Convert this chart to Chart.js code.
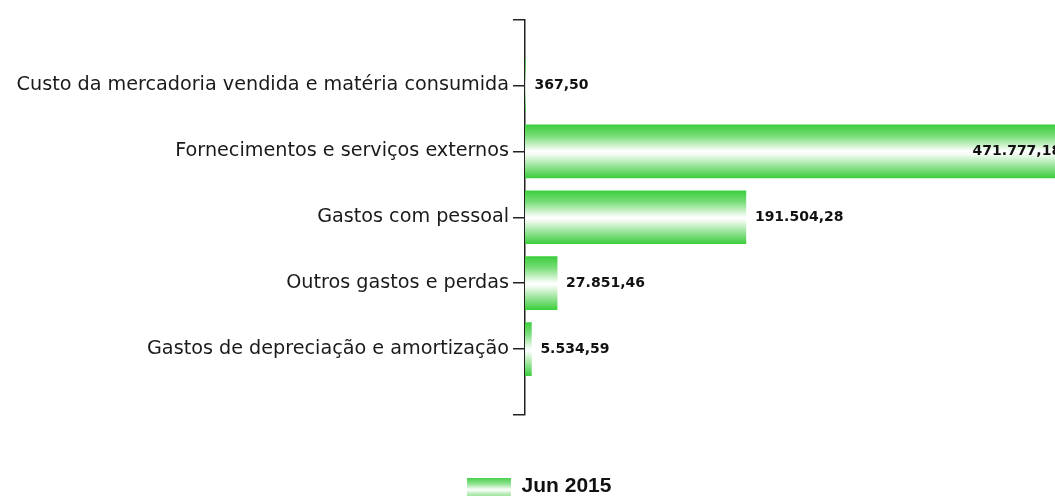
<!DOCTYPE html>
<html>
<head>
<meta charset="utf-8">
<script src="https://cdn.jsdelivr.net/npm/chart.js@4.4.1/dist/chart.umd.min.js"></script>
<style>
  html, body { margin: 0; padding: 0; background: #fff; }
  canvas { display: block; }
</style>
</head>
<body>
<canvas id="mainChart" width="1055" height="499"></canvas>
<script>
const categories = [
    'Custo da mercadoria vendida e matéria consumida',
    'Fornecimentos e serviços externos',
    'Gastos com pessoal',
    'Outros gastos e perdas',
    'Gastos de depreciação e amortização'
]
const values = [367.50, 471777.18, 191504.28, 27851.46, 5534.59]
const seriesName = 'Jun 2015'
const xMax = 459500

const GREEN = '#3dce3d'

function fmt(v) {
    const [int, dec] = v.toFixed(2).split('.')
    return int.replace(/\B(?=(\d{3})+(?!\d))/g, '.') + ',' + dec
}

function barGradient(ctx, top, bottom) {
    const g = ctx.createLinearGradient(0, top, 0, bottom)
    g.addColorStop(0, GREEN)
    g.addColorStop(0.2, '#74dc74')
    g.addColorStop(0.5, '#ffffff')
    g.addColorStop(0.56, '#f4fcf4')
    g.addColorStop(0.82, '#86df86')
    g.addColorStop(1, GREEN)
    return g
}

// little swatch used as the legend "point style"
function legendSwatch() {
    const c = document.createElement('canvas')
    c.width = 44
    c.height = 18
    const x = c.getContext('2d')
    const g = x.createLinearGradient(0, 0, 0, 18)
    g.addColorStop(0, '#45d045')
    g.addColorStop(0.35, '#8fe28f')
    g.addColorStop(0.68, '#ffffff')
    g.addColorStop(1, '#9ee59e')
    x.fillStyle = g
    x.fillRect(0, 0, 44, 18)
    return c
}

const valueLabels = {
    id: 'valueLabels',
    afterLayout(chart) {
        // legend sits a bit right of the canvas centre in the original
        chart.legend.left += 11.75
        chart.legend.right += 11.75
    },
    afterDatasetsDraw(chart) {
        const { ctx, chartArea } = chart
        const meta = chart.getDatasetMeta(0)
        ctx.save()
        ctx.font = 'bold 14px "DejaVu Sans"'
        ctx.fillStyle = '#111'
        ctx.textBaseline = 'middle'
        meta.data.forEach((bar, i) => {
            const text = fmt(values[i])
            const w = ctx.measureText(text).width
            if (bar.x + 9 + w > chartArea.right) {
                ctx.textAlign = 'right'
                ctx.fillText(text, bar.x - 8, bar.y)
            } else {
                ctx.textAlign = 'left'
                ctx.fillText(text, bar.x + 9, bar.y)
            }
        })
        ctx.restore()
    }
}

new Chart(document.getElementById('mainChart'), {
    type: 'bar',
    data: {
        datasets: [{
            label: seriesName,
            data: values.map((v, i) => ({ x: v, y: i })),
            barThickness: 53,
            backgroundColor: (c) => {
                const ys = c.chart.scales.y
                if (!ys || c.dataIndex === undefined) return GREEN
                const yc = ys.getPixelForValue(c.dataIndex)
                if (!isFinite(yc)) return GREEN
                return barGradient(c.chart.ctx, yc - 26.5, yc + 26.5)
            },
            borderWidth: 0
        }]
    },
    options: {
        indexAxis: 'y',
        responsive: false,
        animation: false,
        layout: {
            padding: { top: 19.5, left: 0, right: 0, bottom: -8 }
        },
        scales: {
            x: {
                type: 'linear',
                min: 0,
                max: xMax,
                grid: { display: false },
                border: { display: false },
                ticks: { display: false },
                afterFit: (s) => { s.height = 51 }
            },
            y: {
                type: 'linear',
                min: -1,
                max: 5,
                reverse: true,
                offset: false,
                afterFit: (s) => { s.width = 525 },
                grid: {
                    display: true,
                    offset: false,
                    drawOnChartArea: false,
                    drawTicks: true,
                    tickLength: 12,
                    color: '#222',
                    lineWidth: 1.5
                },
                border: { display: true, color: '#222', width: 1.5 },
                ticks: {
                    stepSize: 1,
                    padding: 4,
                    color: '#1a1a1a',
                    font: { family: 'DejaVu Sans', size: 19.2 },
                    callback: (v) => categories[v] ?? ''
                }
            }
        },
        plugins: {
            tooltip: { enabled: false },
            legend: {
                display: true,
                position: 'bottom',
                labels: {
                    usePointStyle: true,
                    pointStyle: legendSwatch(),
                    pointStyleWidth: 44,
                    padding: 10,
                    color: '#111',
                    font: { family: 'Liberation Sans', size: 21, weight: 'bold' }
                }
            }
        }
    },
    plugins: [valueLabels]
})
</script>
</body>
</html>
